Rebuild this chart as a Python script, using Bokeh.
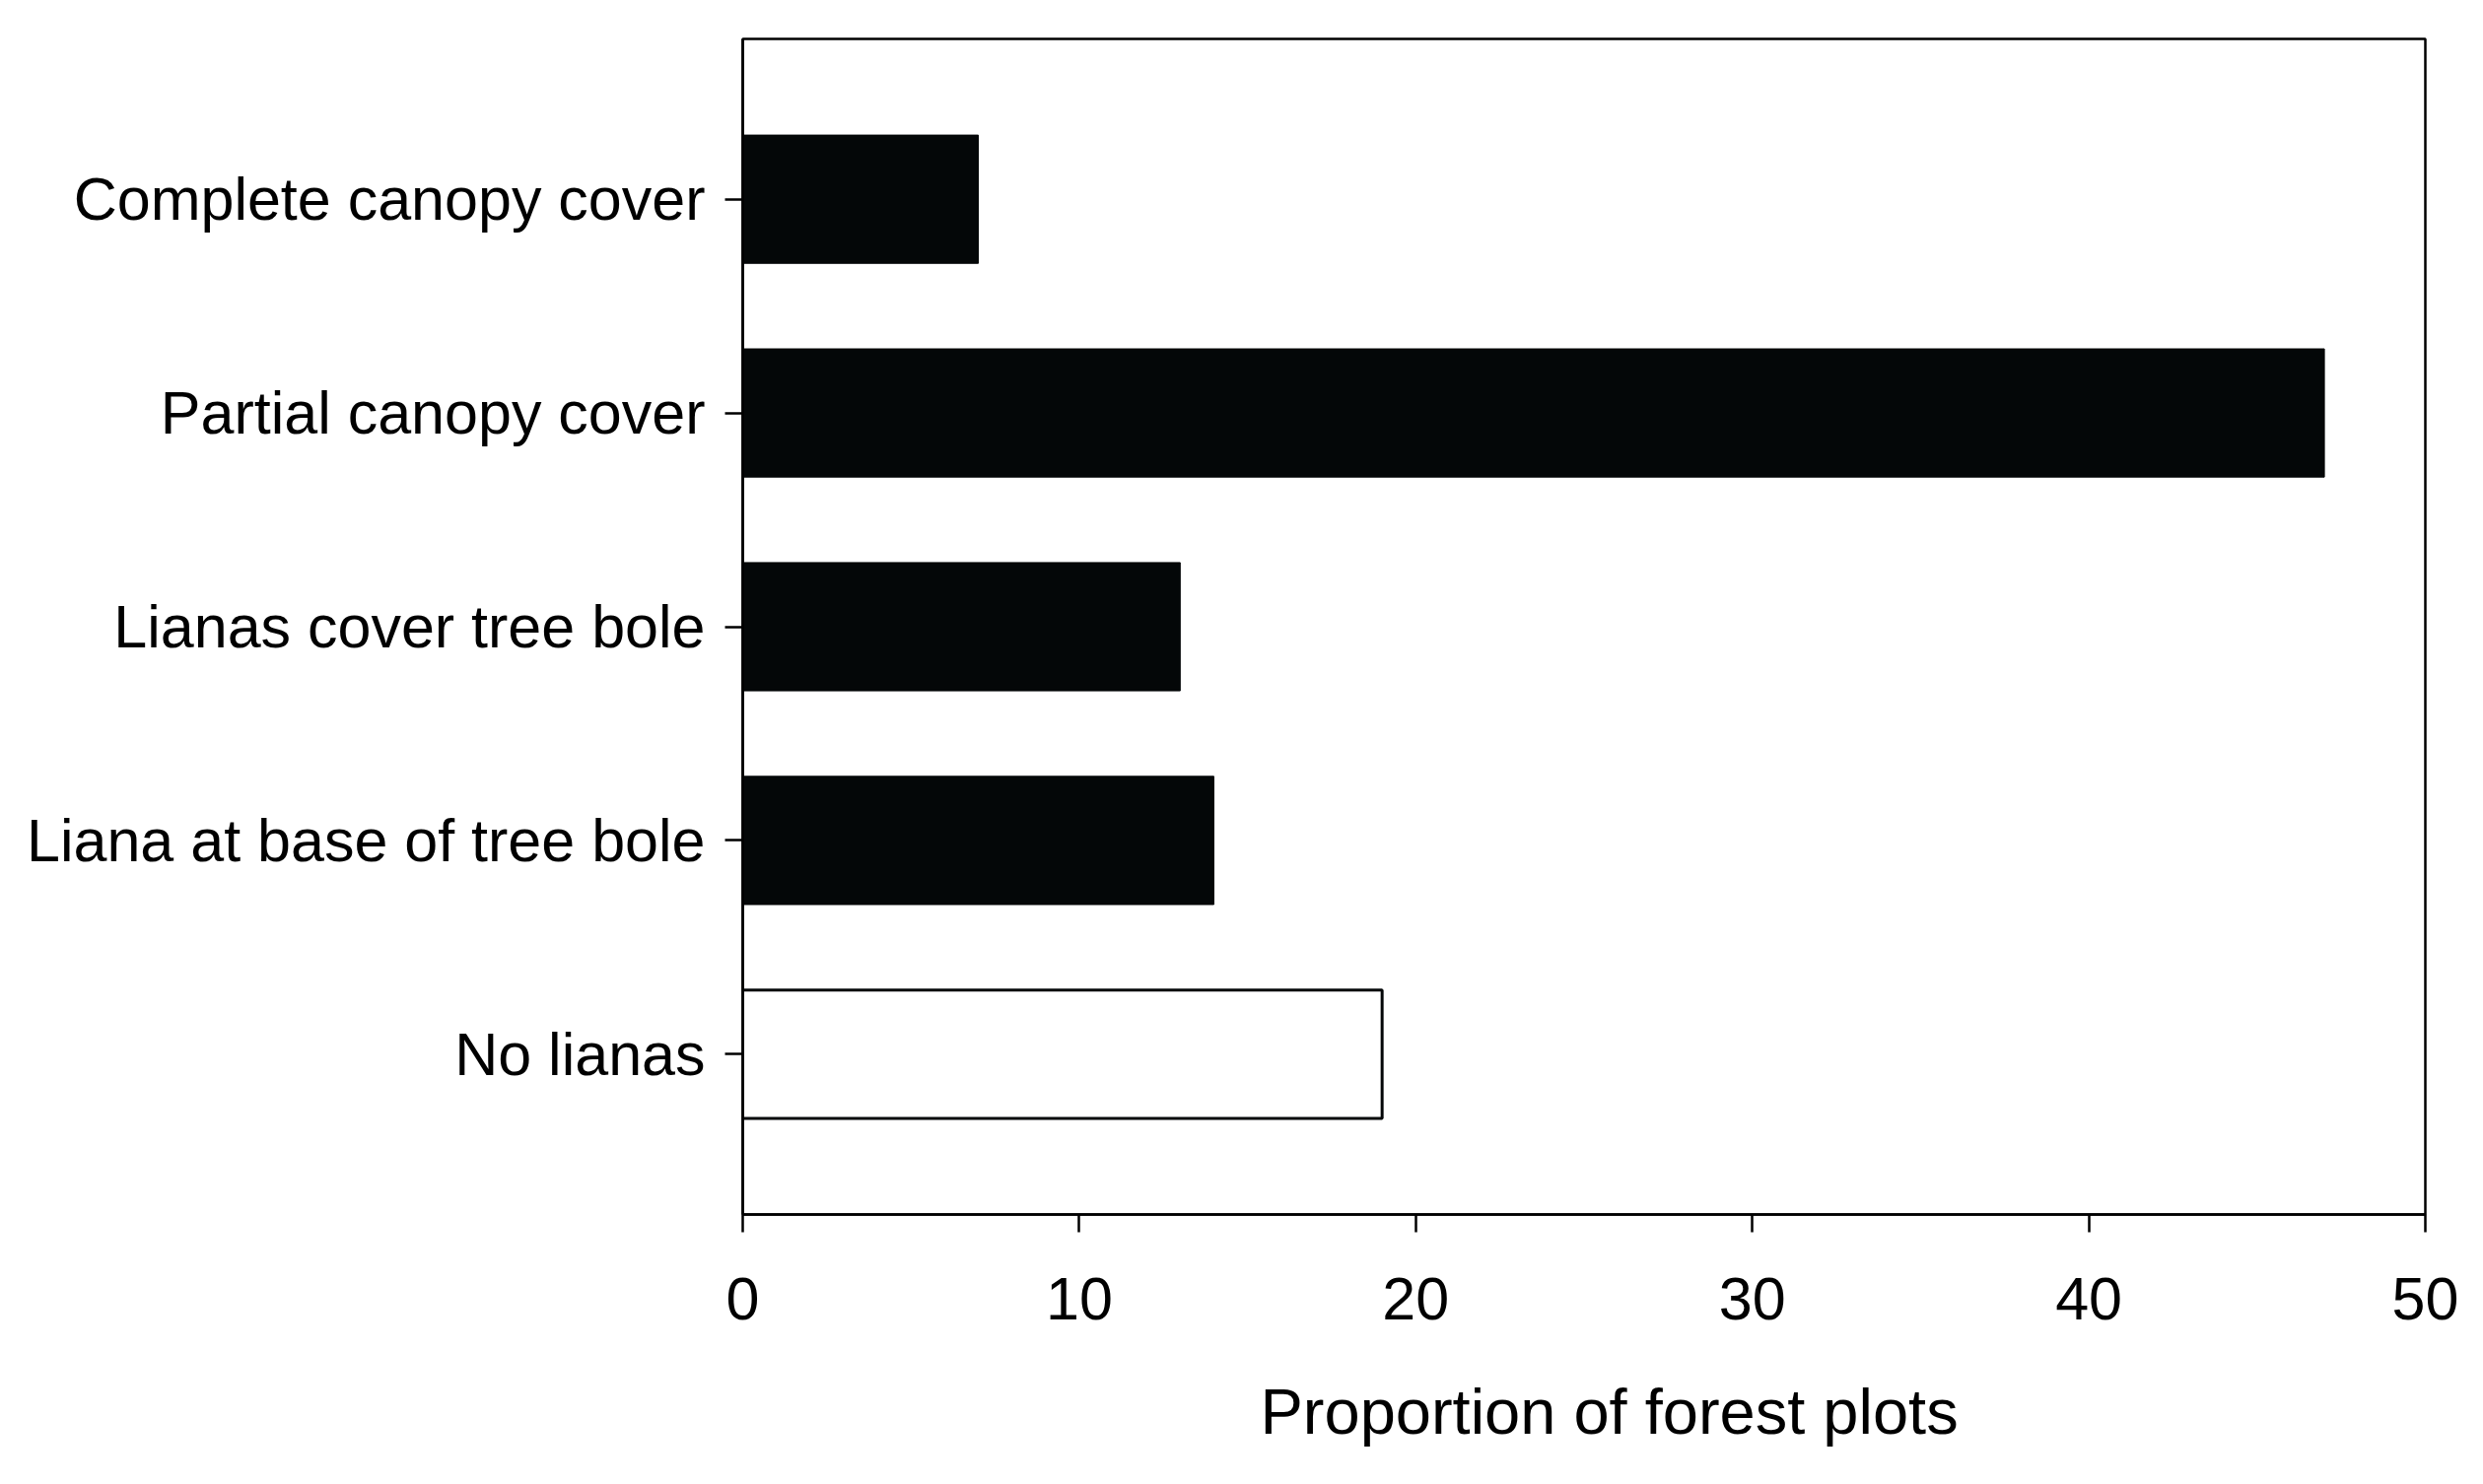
from bokeh.plotting import figure
from bokeh.models import FactorRange, Range1d, FixedTicker, Title
from bokeh.embed import file_html
from bokeh.resources import INLINE

# Data (top to bottom as drawn)
categories = ["Complete canopy cover", "Partial canopy cover", "Lianas cover tree bole",
              "Liana at base of tree bole", "No lianas"]
proportions = [7, 47, 13, 14, 19]
x_ticks = [0, 10, 20, 30, 40, 50]
x_label = "Proportion of forest plots"
control_category = "No lianas"

FONT = "Liberation Sans"

p = figure(frame_width=1707, frame_height=1193, output_backend="svg", toolbar_location=None,
           y_range=FactorRange(factors=list(reversed(categories)), range_padding=0.25,
                               range_padding_units="absolute"),
           x_range=Range1d(0, 50),
           min_border_left=753, min_border_right=40, min_border_top=39, min_border_bottom=10)

liana_cats = [c for c in categories if c != control_category]
liana_vals = [v for c, v in zip(categories, proportions) if c != control_category]
ctrl_cats = [c for c in categories if c == control_category]
ctrl_vals = [v for c, v in zip(categories, proportions) if c == control_category]

p.hbar(y=liana_cats, right=liana_vals, left=0, height=0.6,
       fill_color="#040708", line_color="#040708", line_width=1)
p.hbar(y=ctrl_cats, right=ctrl_vals, left=0, height=0.6,
       fill_color="white", line_color="#040708", line_width=3)

p.xgrid.visible = False
p.ygrid.visible = False
p.outline_line_color = "black"
p.outline_line_width = 2.5
p.background_fill_color = "white"
p.border_fill_color = "white"

xa = p.xaxis[0]
xa.ticker = FixedTicker(ticks=x_ticks)
xa.minor_tick_line_color = None
xa.major_tick_in = 0
xa.major_tick_out = 18
xa.major_tick_line_width = 2.5
xa.axis_line_width = 2.5
xa.axis_line_color = "black"
xa.major_tick_line_color = "black"
xa.major_label_text_font = FONT
xa.major_label_text_font_size = "61px"
xa.major_label_text_color = "black"
xa.major_label_standoff = 46

# x-axis title, placed slightly right of centre as in the original
xt = Title(text=x_label, align="left", offset=525, vertical_align="bottom", standoff=104,
           text_font=FONT, text_font_size="65px", text_font_style="normal",
           text_color="black")
p.add_layout(xt, "below")

ya = p.yaxis[0]
ya.major_tick_in = 0
ya.major_tick_out = 18
ya.major_tick_line_width = 2.5
ya.axis_line_width = 2.5
ya.axis_line_color = "black"
ya.major_tick_line_color = "black"
ya.major_label_text_font = FONT
ya.major_label_text_font_size = "61px"
ya.major_label_text_color = "black"
ya.major_label_standoff = 20

open("out.html", "w").write(file_html(p, INLINE))
